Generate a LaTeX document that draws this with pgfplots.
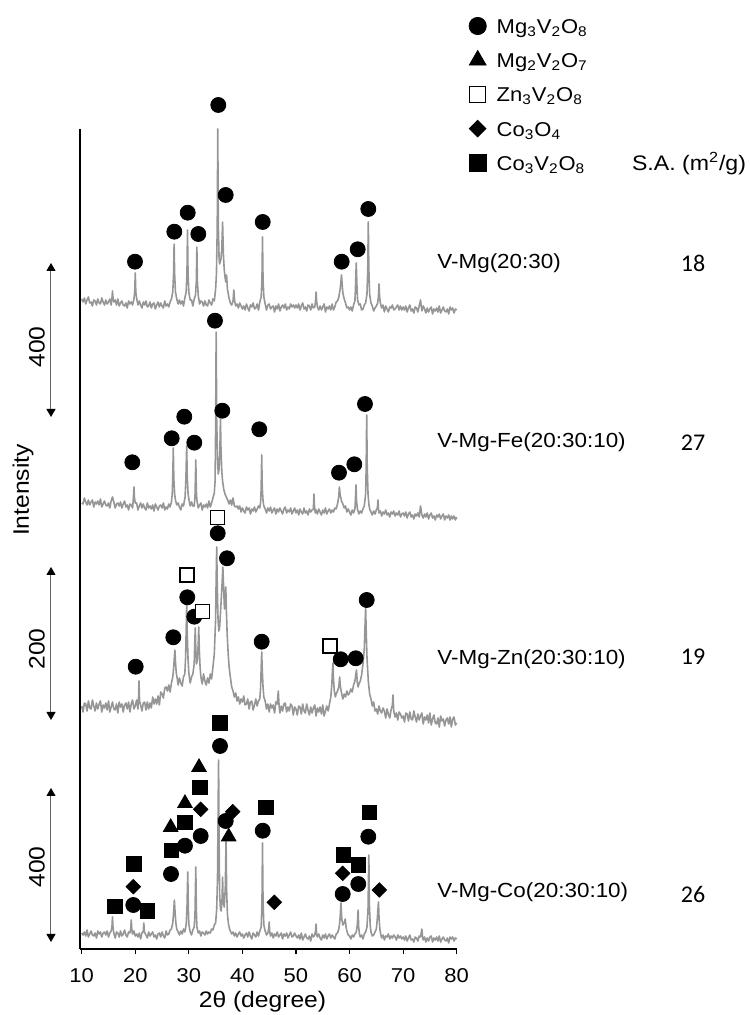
\documentclass[border=0pt]{standalone}
\usepackage{fontspec}
\setmainfont{Liberation Sans}[FakeStretch=1.1]
\newfontfamily\calibri{Carlito}
\usepackage{pgfplots}
\pgfplotsset{compat=1.18}
\usetikzlibrary{arrows.meta}
\definecolor{trace}{RGB}{150,150,150}
\definecolor{arrowgray}{RGB}{100,100,100}
\pgfplotsset{
  mk/.style={only marks, black,
    legend image code/.code={\path[draw=none,fill=none] (-5pt,-4.5pt) rectangle (5pt,4.5pt);
      \draw[##1,/tikz/every mark/.append style={scale=1.15}] plot coordinates {(0pt,0pt)};}},
  tr/.style={forget plot, color=trace, line width=0.8pt, line join=round, mark=none},
}
\begin{document}
\begin{tikzpicture}
\begin{axis}[
  scale only axis, width=188.35pt, height=410pt,
  xmin=9.68, xmax=80, ymin=0, ymax=820,
  clip=false,
  axis x line*=bottom, axis y line*=left,
  axis line style={black, line width=0.6pt},
  xtick={10,20,...,80}, ytick=\empty,
  tick align=outside, major tick length=2.5pt,
  tick style={black, line width=0.6pt},
  /pgf/number format/assume math mode=true,
  xticklabel style={font=\fontsize{10}{12}\selectfont, yshift=-3.6pt},
  legend style={at={(1.0292,1.1384)}, anchor=north west, draw=none, fill=none, inner sep=0pt, outer sep=0pt,
    row sep=6.6pt, column sep=4.5pt, font=\fontsize{10}{12}\selectfont,
    nodes={inner sep=0pt, text height=9pt, text depth=1.5pt}},
  legend cell align=left,
]
% ---- V-Mg(20:30)
\addplot[tr] coordinates {
(10,650)(10.25,647)(10.5,651)(10.75,645)(11,649)(11.25,652)(11.5,646)(11.75,647)(12,643)(12.25,649)(12.5,648)(12.75,644)(13,650)(13.25,646)(13.5,645)(13.75,651)(14,647)(14.25,644)(14.5,649)(14.75,645)(15,647)(15.25,650)(15.5,644)(15.65,651)(15.75,658)(15.85,651)(16,647)(16.25,649)(16.5,644)(16.75,650)(17,643)(17.25,646)(17.5,648)(17.75,644)(18,643)(18.25,646)(18.5,641)(18.75,648)(19,645)(19.25,647)(19.5,644)(19.75,650)(19.9,657)(20,676)(20.1,657)(20.25,651)(20.5,644)(20.75,648)(21,644)(21.25,641)(21.5,647)(21.75,644)(22,648)(22.25,642)(22.5,643)(22.75,647)(23,641)(23.25,645)(23.5,646)(23.75,640)(24,644)(24.25,647)(24.5,642)(24.75,646)(25,643)(25.25,641)(25.5,648)(25.75,643)(26,645)(26.25,642)(26.5,647)(26.75,650)(27,657)(27.15,675)(27.25,705)(27.35,675)(27.5,657)(27.75,650)(28,645)(28.25,649)(28.5,645)(28.75,648)(29,643)(29.25,651)(29.5,657)(29.65,676)(29.75,719)(29.85,676)(30,657)(30.25,649)(30.5,649)(30.75,643)(31,650)(31.25,654)(31.4,668)(31.5,702)(31.6,668)(31.75,654)(32,645)(32.25,648)(32.5,647)(32.75,643)(33,648)(33.25,644)(33.5,643)(33.75,649)(34,646)(34.25,644)(34.5,650)(34.75,648)(35,660)(35.15,675)(35.3,720)(35.4,820)(35.5,725)(35.65,690)(35.75,685)(36,690)(36.15,700)(36.3,727)(36.45,695)(36.6,680)(36.75,672)(36.9,667)(37.05,674)(37.2,660)(37.5,651)(37.75,646)(38,644)(38.25,648)(38.4,659)(38.55,648)(38.75,643)(39,645)(39.25,641)(39.5,646)(39.75,643)(40,640)(40.25,643)(40.5,639)(40.75,645)(41,641)(41.25,638)(41.5,644)(41.75,642)(42,646)(42.25,640)(42.5,641)(42.75,645)(43,639)(43.25,647)(43.5,652)(43.65,670)(43.75,712)(43.85,670)(44,652)(44.25,645)(44.5,639)(44.75,644)(45,645)(45.25,640)(45.5,642)(45.75,643)(46,637)(46.25,643)(46.5,640)(46.75,645)(47,638)(47.25,642)(47.5,644)(47.75,641)(48,645)(48.25,639)(48.5,642)(48.75,640)(49,645)(49.25,642)(49.5,644)(49.75,641)(50,644)(50.25,641)(50.5,645)(50.75,639)(51,643)(51.25,646)(51.5,640)(51.75,642)(52,638)(52.25,644)(52.5,643)(52.75,639)(53,645)(53.25,641)(53.5,642)(53.65,648)(53.75,657)(53.85,648)(54,642)(54.25,639)(54.5,643)(54.75,639)(55,642)(55.25,645)(55.5,637)(55.75,642)(56,640)(56.25,643)(56.5,639)(56.75,645)(57,639)(57.25,642)(57.5,647)(57.75,648)(58,652)(58.25,660)(58.4,668)(58.5,674)(58.6,666)(58.75,656)(59,650)(59.25,646)(59.5,641)(59.75,642)(60,639)(60.25,642)(60.5,638)(60.75,644)(61,648)(61.1,660)(61.25,686)(61.4,660)(61.5,649)(61.75,644)(62,645)(62.25,639)(62.5,640)(62.75,644)(63,646)(63.25,655)(63.4,680)(63.5,727)(63.6,680)(63.75,655)(64,646)(64.25,643)(64.5,638)(64.75,641)(65,643)(65.25,646)(65.4,653)(65.5,665)(65.6,653)(65.75,646)(66,641)(66.25,644)(66.5,637)(66.75,643)(67,640)(67.25,637)(67.5,642)(67.75,641)(68,644)(68.25,639)(68.5,640)(68.75,642)(69,644)(69.25,639)(69.5,643)(69.75,639)(70,642)(70.25,639)(70.5,643)(70.75,637)(71,641)(71.25,644)(71.5,638)(71.75,640)(72,636)(72.25,642)(72.5,641)(72.75,637)(73,643)(73.25,649)(73.5,638)(73.75,643)(74,640)(74.25,636)(74.5,641)(74.75,637)(75,640)(75.25,642)(75.5,635)(75.75,640)(76,638)(76.25,641)(76.5,637)(76.75,643)(77,636)(77.25,639)(77.5,642)(77.75,638)(78,637)(78.25,640)(78.5,635)(78.75,642)(79,639)(79.25,641)(79.5,636)(79.75,640)(80,639)
};
% ---- V-Mg-Fe(20:30:10)
\addplot[tr] coordinates {
(10,446)(10.25,445)(10.5,451)(10.75,447)(11,444)(11.25,449)(11.5,444)(11.75,447)(12,449)(12.25,442)(12.5,447)(12.75,445)(13,448)(13.25,444)(13.5,450)(13.75,442)(14,445)(14.25,448)(14.5,444)(14.75,443)(15,446)(15.25,441)(15.5,448)(15.75,452)(16,447)(16.25,441)(16.5,445)(16.75,446)(17,443)(17.25,447)(17.5,441)(17.75,445)(18,448)(18.25,442)(18.5,444)(18.75,439)(19,445)(19.25,444)(19.5,441)(19.65,451)(19.75,462)(19.85,451)(20,446)(20.25,446)(20.5,439)(20.75,443)(21,446)(21.25,441)(21.5,445)(21.75,441)(22,439)(22.25,446)(22.5,441)(22.75,443)(23,440)(23.25,444)(23.5,438)(23.75,445)(24,442)(24.25,439)(24.5,443)(24.75,444)(25,441)(25.25,446)(25.5,439)(25.75,442)(26,440)(26.25,445)(26.5,442)(26.75,447)(26.9,455)(27,472)(27.1,501)(27.2,470)(27.35,455)(27.5,449)(27.75,444)(28,446)(28.25,442)(28.5,439)(28.75,445)(29,443)(29.1,446)(29.3,452)(29.45,470)(29.6,503)(29.7,472)(29.85,456)(30,450)(30.25,443)(30.5,447)(30.75,443)(31,443)(31.15,452)(31.3,489)(31.4,458)(31.5,449)(31.75,441)(32,444)(32.25,446)(32.5,439)(32.75,444)(33,442)(33.25,445)(33.5,441)(33.75,448)(34,442)(34.25,446)(34.5,451)(34.75,456)(34.9,468)(35,520)(35.1,617)(35.2,530)(35.35,490)(35.5,475)(35.65,480)(35.8,500)(35.9,531)(36,500)(36.15,478)(36.3,468)(36.5,460)(36.75,455)(37,452)(37.25,449)(37.5,445)(37.75,449)(38,444)(38.25,451)(38.5,443)(38.75,442)(39,443)(39.25,440)(39.5,443)(39.75,437)(40,441)(40.25,438)(40.5,436)(40.75,442)(41,439)(41.25,441)(41.5,435)(41.75,440)(42,438)(42.25,442)(42.5,437)(42.75,440)(43,443)(43.25,441)(43.4,447)(43.5,460)(43.6,494)(43.7,462)(43.85,448)(44,443)(44.25,440)(44.5,436)(44.75,441)(45,438)(45.25,442)(45.5,436)(45.75,439)(46,441)(46.25,435)(46.5,440)(46.75,437)(47,441)(47.25,438)(47.5,435)(47.75,440)(48,442)(48.25,436)(48.5,439)(48.75,437)(49,441)(49.25,435)(49.5,438)(49.75,441)(50,436)(50.25,439)(50.5,434)(50.75,440)(51,437)(51.25,435)(51.5,441)(51.75,436)(52,438)(52.25,434)(52.5,440)(52.75,437)(53,439)(53.25,440)(53.35,455)(53.45,443)(53.6,436)(53.75,439)(54,435)(54.25,440)(54.5,437)(54.75,434)(55,439)(55.25,436)(55.5,441)(55.75,435)(56,438)(56.25,440)(56.5,436)(56.75,439)(57,437)(57.25,441)(57.5,440)(57.75,445)(58,453)(58.1,462)(58.25,454)(58.5,448)(58.75,445)(59,441)(59.25,443)(59.5,437)(59.75,440)(60,437)(60.25,434)(60.5,439)(60.75,436)(61,440)(61.1,450)(61.2,464)(61.3,448)(61.5,439)(61.75,435)(62,438)(62.25,436)(62.5,440)(62.75,443)(63,455)(63.1,480)(63.2,534)(63.3,482)(63.45,455)(63.6,445)(63.75,440)(64,437)(64.25,434)(64.5,438)(64.75,435)(65,439)(65.2,441)(65.3,449)(65.4,440)(65.5,436)(65.75,438)(66,433)(66.25,437)(66.5,435)(66.75,439)(67,434)(67.25,436)(67.5,432)(67.75,437)(68,435)(68.25,438)(68.5,433)(68.75,436)(69,434)(69.25,438)(69.5,432)(69.75,435)(70,436)(70.25,433)(70.5,437)(70.75,431)(71,435)(71.25,437)(71.5,432)(71.75,434)(72,430)(72.25,435)(72.5,433)(72.75,436)(73,432)(73.25,443)(73.5,434)(73.75,431)(74,435)(74.25,432)(74.5,436)(74.75,430)(75,434)(75.25,436)(75.5,431)(75.75,433)(76,429)(76.25,434)(76.5,432)(76.75,435)(77,430)(77.25,433)(77.5,435)(77.75,429)(78,433)(78.25,431)(78.5,434)(78.75,429)(79,433)(79.25,430)(79.5,433)(79.75,429)(80,432)
};
% ---- V-Mg-Zn(20:30:10)
\addplot[tr] coordinates {
(10,243)(10.25,237)(10.5,246)(10.75,245)(11,238)(11.25,248)(11.5,241)(11.75,240)(12,249)(12.25,243)(12.5,238)(12.75,246)(13,240)(13.25,245)(13.5,248)(13.75,237)(14,244)(14.25,241)(14.5,246)(14.75,239)(15,248)(15.25,237)(15.5,242)(15.75,247)(16,240)(16.25,239)(16.5,245)(16.75,236)(17,247)(17.25,242)(17.5,245)(17.75,237)(18,244)(18.25,246)(18.5,240)(18.75,247)(19,237)(19.25,245)(19.5,249)(19.75,240)(20,243)(20.25,249)(20.5,240)(20.6,250)(20.7,268)(20.8,248)(21,244)(21.25,238)(21.5,246)(21.75,247)(22,239)(22.25,247)(22.5,240)(22.75,246)(23,241)(23.25,252)(23.5,245)(23.75,250)(24,245)(24.25,253)(24.5,244)(24.75,257)(25,255)(25.25,251)(25.5,261)(25.75,262)(26,258)(26.25,264)(26.5,257)(26.75,266)(27,272)(27.15,280)(27.3,292)(27.4,299)(27.5,288)(27.65,276)(27.85,270)(28,264)(28.25,271)(28.5,266)(28.75,263)(29,272)(29.25,275)(29.4,292)(29.5,318)(29.6,346)(29.7,316)(29.85,290)(30,276)(30.25,266)(30.5,272)(30.75,275)(31,285)(31.1,305)(31.2,321)(31.3,300)(31.45,285)(31.6,290)(31.75,305)(31.85,322)(31.95,300)(32.1,282)(32.25,272)(32.5,265)(32.75,275)(33,268)(33.25,264)(33.5,271)(33.75,266)(34,275)(34.25,270)(34.5,282)(34.75,295)(35,330)(35.1,370)(35.2,402)(35.3,365)(35.45,330)(35.6,318)(35.75,322)(35.9,335)(36.05,350)(36.2,365)(36.35,382)(36.5,360)(36.65,340)(36.8,352)(36.9,362)(37,340)(37.15,315)(37.35,295)(37.5,283)(37.75,272)(38,262)(38.25,258)(38.5,252)(38.75,256)(39,248)(39.25,252)(39.5,245)(39.75,250)(40,247)(40.25,253)(40.5,244)(40.75,245)(41,250)(41.25,240)(41.5,247)(41.75,248)(42,239)(42.25,244)(42.5,250)(42.75,243)(43,248)(43.25,250)(43.4,262)(43.5,280)(43.6,297)(43.7,280)(43.85,262)(44,252)(44.25,248)(44.5,240)(44.75,245)(45,237)(45.25,245)(45.5,241)(45.75,244)(46,236)(46.25,247)(46.5,245)(46.7,258)(46.85,243)(47,236)(47.25,243)(47.5,238)(47.75,245)(48,246)(48.25,237)(48.5,242)(48.75,238)(49,245)(49.25,243)(49.5,234)(49.75,242)(50,240)(50.25,234)(50.5,243)(50.75,242)(51,235)(51.25,245)(51.5,238)(51.75,236)(52,245)(52.25,239)(52.5,234)(52.75,242)(53,236)(53.25,241)(53.5,244)(53.75,233)(54,241)(54.25,237)(54.5,242)(54.75,235)(55,244)(55.25,233)(55.5,238)(55.75,243)(56,238)(56.25,245)(56.5,252)(56.7,265)(56.8,278)(56.9,286)(57,270)(57.15,258)(57.35,252)(57.5,255)(57.75,258)(58,262)(58.15,272)(58.3,262)(58.5,256)(58.75,250)(59,255)(59.25,252)(59.5,258)(59.75,254)(60,256)(60.25,260)(60.5,257)(60.75,264)(61,268)(61.15,274)(61.3,279)(61.45,266)(61.6,262)(61.75,265)(62,268)(62.25,274)(62.5,285)(62.75,300)(62.9,325)(63,342)(63.1,320)(63.25,292)(63.5,268)(63.75,255)(64,250)(64.25,243)(64.5,247)(64.75,238)(65,240)(65.25,235)(65.5,243)(65.75,238)(66,236)(66.25,241)(66.5,238)(66.75,231)(67,240)(67.25,235)(67.5,231)(67.75,239)(68,244)(68.1,254)(68.25,238)(68.5,232)(68.75,236)(69,229)(69.25,237)(69.5,235)(69.75,231)(70,233)(70.25,227)(70.5,236)(70.75,235)(71,228)(71.25,237)(71.5,230)(71.75,229)(72,238)(72.25,232)(72.5,227)(72.75,235)(73,229)(73.25,233)(73.5,236)(73.75,225)(74,232)(74.25,229)(74.5,234)(74.75,226)(75,236)(75.25,224)(75.5,230)(75.75,234)(76,226)(76.25,225)(76.5,231)(76.75,222)(77,233)(77.25,228)(77.5,230)(77.75,223)(78,229)(78.25,231)(78.5,225)(78.75,232)(79,222)(79.25,230)(79.5,232)(79.75,224)(80,226)
};
% ---- V-Mg-Co(20:30:10)
\addplot[tr] coordinates {
(10,16)(10.25,14)(10.5,17)(10.75,13)(11,19)(11.25,12)(11.5,15)(11.75,18)(12,14)(12.25,13)(12.5,16)(12.75,11)(13,18)(13.25,15)(13.5,17)(13.75,12)(14,16)(14.25,17)(14.5,14)(14.75,18)(15,12)(15.25,16)(15.5,18)(15.65,22)(15.75,32)(15.85,21)(16,16)(16.25,11)(16.5,17)(16.75,16)(17,12)(17.25,18)(17.5,13)(17.75,15)(18,19)(18.25,14)(18.5,12)(18.75,17)(19,16)(19.15,20)(19.25,29)(19.35,20)(19.5,15)(19.75,18)(20,13)(20.25,15)(20.5,12)(20.75,16)(21,10)(21.25,16)(21.5,18)(21.6,26)(21.7,17)(22,14)(22.25,11)(22.5,17)(22.75,13)(23,15)(23.25,17)(23.5,12)(23.75,14)(24,10)(24.25,15)(24.5,16)(24.75,12)(25,17)(25.25,13)(25.5,11)(25.75,18)(26,14)(26.25,15)(26.5,19)(26.75,20)(27,26)(27.15,36)(27.3,49)(27.45,35)(27.6,25)(27.75,20)(28,17)(28.25,14)(28.5,18)(28.75,15)(29,20)(29.25,17)(29.5,24)(29.65,40)(29.8,77)(29.9,42)(30,25)(30.25,17)(30.5,14)(30.75,19)(31,22)(31.15,35)(31.3,82)(31.4,40)(31.5,22)(31.75,16)(32,18)(32.25,13)(32.5,17)(32.75,16)(33,14)(33.25,18)(33.5,15)(33.75,17)(34,16)(34.25,20)(34.5,19)(34.75,24)(35,26)(35.2,40)(35.35,70)(35.45,130)(35.55,189)(35.65,110)(35.75,55)(35.9,40)(36.05,38)(36.2,50)(36.3,72)(36.4,48)(36.6,42)(36.8,60)(36.95,109)(37.05,60)(37.2,35)(37.4,25)(37.6,20)(37.75,18)(38,15)(38.25,17)(38.5,13)(38.75,16)(39,12)(39.25,15)(39.5,17)(39.75,13)(40,15)(40.25,11)(40.5,14)(40.75,16)(41,12)(41.25,17)(41.5,13)(41.75,10)(42,16)(42.25,14)(42.5,12)(42.75,17)(43,13)(43.25,18)(43.5,22)(43.65,45)(43.75,106)(43.85,48)(44,24)(44.25,18)(44.5,14)(44.75,16)(44.9,20)(45,27)(45.1,17)(45.25,13)(45.5,16)(45.75,11)(46,15)(46.25,13)(46.5,17)(46.75,12)(47,14)(47.25,16)(47.5,10)(47.75,15)(48,13)(48.25,16)(48.5,11)(48.75,14)(49,17)(49.25,12)(49.5,13)(49.75,16)(50,13)(50.25,11)(50.5,14)(50.75,10)(51,16)(51.25,9)(51.5,12)(51.75,15)(52,11)(52.25,10)(52.5,13)(52.75,8)(53,15)(53.25,12)(53.5,14)(53.65,18)(53.75,25)(53.85,15)(54,12)(54.25,15)(54.5,11)(54.75,9)(55,14)(55.25,11)(55.5,15)(55.75,10)(56,13)(56.25,15)(56.5,11)(56.75,14)(57,12)(57.25,10)(57.5,15)(57.75,16)(58,20)(58.2,28)(58.4,46)(58.55,30)(58.75,24)(59,26)(59.2,30)(59.35,22)(59.5,18)(59.75,14)(60,13)(60.25,10)(60.5,14)(60.75,12)(61,15)(61.25,17)(61.45,24)(61.6,39)(61.7,22)(61.85,15)(62,12)(62.25,14)(62.5,10)(62.75,15)(63,17)(63.25,22)(63.45,40)(63.6,94)(63.7,45)(63.85,24)(64,17)(64.25,13)(64.5,14)(64.75,17)(65,20)(65.15,28)(65.3,40)(65.4,47)(65.5,32)(65.65,20)(65.85,14)(66,11)(66.25,14)(66.5,9)(66.75,13)(67,12)(67.25,15)(67.5,10)(67.75,13)(68,11)(68.25,14)(68.5,12)(68.75,9)(69,14)(69.25,11)(69.5,13)(69.75,10)(70,12)(70.25,9)(70.5,13)(70.75,8)(71,11)(71.25,14)(71.5,9)(71.75,10)(72,7)(72.25,12)(72.5,11)(72.75,8)(73,13)(73.25,12)(73.5,20)(73.65,11)(73.75,9)(74,12)(74.25,7)(74.5,11)(74.75,8)(75,12)(75.25,13)(75.5,7)(75.75,11)(76,9)(76.25,12)(76.5,8)(76.75,13)(77,7)(77.25,10)(77.5,12)(77.75,9)(78,8)(78.25,11)(78.5,6)(78.75,12)(79,10)(79.25,12)(79.5,8)(79.75,11)(80,10)
};
% ---- phase markers
\addplot[mk, mark=*, mark size=3.75pt] coordinates {
(19.95,687.3)(27.29,717.3)(29.79,736.3)(31.77,715)(35.50,844)(36.88,754)(43.79,727)(58.53,687.3)(61.52,699.7)(63.50,740)
(19.45,486.7)(26.80,510.7)(29.15,532.3)(31.02,506.3)(34.88,628.3)(36.25,538.3)(43.15,519.7)(58.03,476.3)(60.89,484.7)(62.88,545)
(20.08,282.3)(27.10,311.7)(29.71,351.7)(31.02,332.3)(35.39,415.7)(37.12,390.7)(43.60,307.3)(58.35,289.7)(61.15,290.7)(63.20,349)
(19.63,44)(26.67,75)(29.28,103.3)(32.21,113)(35.82,203)(36.88,128)(43.79,118.3)(58.72,55)(61.63,65)(63.50,112.3)
};
\addlegendentry{Mg\textsubscript{3}V\textsubscript{2}O\textsubscript{8}}
\addplot[mk, mark=triangle*, mark size=4.2pt] coordinates {
(26.61,121.7)(29.28,145.7)(31.90,181.7)(37.44,112.3)
};
\addlegendentry{Mg\textsubscript{2}V\textsubscript{2}O\textsubscript{7}}
\addplot[mk, mark=square*, mark size=3.5pt, mark options={fill=white, draw=black, line width=0.6pt}] coordinates {
(29.66,374)(32.51,337.3)(35.39,431.3)(56.35,303)
};
\addlegendentry{Zn\textsubscript{3}V\textsubscript{2}O\textsubscript{8}}
\addplot[mk, mark=square*, mark size=2.55pt, mark options={rotate=45}] coordinates {
(19.63,62.3)(32.21,139.7)(38.19,137.3)(45.95,46.7)(58.72,75.7)(65.55,59)
};
\addlegendentry{Co\textsubscript{3}O\textsubscript{4}}
\addplot[mk, mark=square*, mark size=3.6pt] coordinates {
(16.22,42.3)(19.76,85)(22.32,38)(26.80,98.3)(29.28,126.3)(32.08,161.7)(35.82,226)(44.35,141.7)(58.83,94)(61.63,84)(63.69,136.3)
};
\addlegendentry{Co\textsubscript{3}V\textsubscript{2}O\textsubscript{8}}
% ---- axis titles
\node[font=\fontsize{11.2}{13}\selectfont] at (axis cs:43.75,-53) {2θ (degree)};
\node[rotate=90, font=\fontsize{11.2}{13}\selectfont] at (axis cs:-0.96,459) {Intensity};
% ---- scale arrows
\draw[arrowgray, line width=0.5pt, {Triangle[width=4.5pt,length=4pt,color=black]}-{Triangle[width=4.5pt,length=4pt,color=black]}] (axis cs:4.27,686) -- (axis cs:4.27,532);
\draw[arrowgray, line width=0.5pt, {Triangle[width=4.5pt,length=4pt,color=black]}-{Triangle[width=4.5pt,length=4pt,color=black]}] (axis cs:4.27,382) -- (axis cs:4.27,229);
\draw[arrowgray, line width=0.5pt, {Triangle[width=4.5pt,length=4pt,color=black]}-{Triangle[width=4.5pt,length=4pt,color=black]}] (axis cs:4.27,161) -- (axis cs:4.27,7);
\node[rotate=90, font=\fontsize{11.2}{13}\selectfont] at (axis cs:1.65,602) {400};
\node[rotate=90, font=\fontsize{11.2}{13}\selectfont] at (axis cs:1.65,300) {200};
\node[rotate=90, font=\fontsize{11.2}{13}\selectfont] at (axis cs:1.65,82) {400};
% ---- sample labels
\node[anchor=west, inner sep=0pt, font=\fontsize{10.2}{12}\selectfont] at (axis cs:76.32,686) {V-Mg(20:30)};
\node[anchor=west, inner sep=0pt, font=\fontsize{10.2}{12}\selectfont] at (axis cs:76.32,507) {V-Mg-Fe(20:30:10)};
\node[anchor=west, inner sep=0pt, font=\fontsize{10.2}{12}\selectfont] at (axis cs:76.32,290) {V-Mg-Zn(20:30:10)};
\node[anchor=west, inner sep=0pt, font=\fontsize{10.2}{12}\selectfont] at (axis cs:76.32,57) {V-Mg-Co(20:30:10)};
% ---- surface areas
\node[anchor=west, inner sep=0pt, font=\fontsize{10.5}{12}\selectfont] at (axis cs:112.66,785.7) {S.A. (m\textsuperscript{2}/g)};
\node[inner sep=0pt, font=\calibri\fontsize{12}{14}\selectfont] at (axis cs:124.11,686) {18};
\node[inner sep=0pt, font=\calibri\fontsize{12}{14}\selectfont] at (axis cs:124.11,506) {27};
\node[inner sep=0pt, font=\calibri\fontsize{12}{14}\selectfont] at (axis cs:124.11,292) {19};
\node[inner sep=0pt, font=\calibri\fontsize{12}{14}\selectfont] at (axis cs:124.11,55) {26};
\coordinate (bbBL) at (axis cs:-5.25,-66);
\coordinate (bbTR) at (axis cs:134.75,949);
\end{axis}
\pgfresetboundingbox
\path (bbBL) rectangle (bbTR);
\end{tikzpicture}
\end{document}
